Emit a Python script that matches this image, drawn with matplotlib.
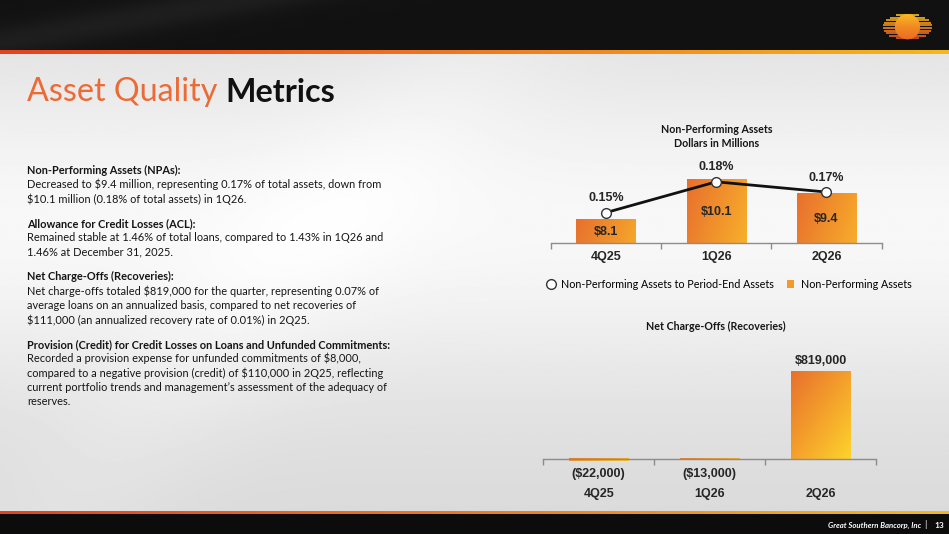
import numpy as np
import matplotlib
matplotlib.use("Agg")
import matplotlib.pyplot as plt
from matplotlib.colors import LinearSegmentedColormap
from matplotlib.lines import Line2D
from matplotlib.patches import Patch, Circle
from matplotlib.transforms import offset_copy

W, H = 949, 534

# data
quarters = ["4Q25", "1Q26", "2Q26"]
npa_millions = [8.1, 10.1, 9.4]
npa_ratio_pct = [0.15, 0.18, 0.17]
net_charge_offs = [-22000, -13000, 819000]

sections = [
    ("Non-Performing Assets (NPAs):",
     ["Decreased to $9.4 million, representing 0.17% of total assets, down from",
      "$10.1 million (0.18% of total assets) in 1Q26."]),
    ("Allowance for Credit Losses (ACL):",
     ["Remained stable at 1.46% of total loans, compared to 1.43% in 1Q26 and",
      "1.46% at December 31, 2025."]),
    ("Net Charge-Offs (Recoveries):",
     ["Net charge-offs totaled $819,000 for the quarter, representing 0.07% of",
      "average loans on an annualized basis, compared to net recoveries of",
      "$111,000 (an annualized recovery rate of 0.01%) in 2Q25."]),
    ("Provision (Credit) for Credit Losses on Loans and Unfunded Commitments:",
     ["Recorded a provision expense for unfunded commitments of $8,000,",
      "compared to a negative provision (credit) of $110,000 in 2Q25, reflecting",
      "current portfolio trends and management\u2019s assessment of the adequacy of",
      "reserves."]),
]

TXT = "Lato"
NUM = "Liberation Sans"
AXIS_GRAY = "#8c8c8c"

bar_cmap = LinearSegmentedColormap.from_list("bar", ["#E8702E", "#F4A02B", "#FDD32C"])
grad = np.add.outer(np.linspace(0, 1, 64), np.linspace(0, 1, 64)) / 2


def gradient_bars(ax, bars):
    for b in bars:
        x0, y0 = b.get_x(), b.get_y()
        w, h = b.get_width(), b.get_height()
        b.set_facecolor("none")
        b.set_edgecolor("none")
        ax.imshow(grad, cmap=bar_cmap, origin="upper", aspect="auto",
                  extent=[x0, x0 + w, min(y0, y0 + h), max(y0, y0 + h)], zorder=2)


fig = plt.figure(figsize=(W / 100, H / 100), dpi=100)

# slide background, in pixel coordinates
bg = fig.add_axes([0, 0, 1, 1], zorder=-10)
bg.set_xlim(0, W)
bg.set_ylim(H, 0)
bg.axis("off")
yy = np.linspace(0, 1, 300)[:, None]
xx = np.linspace(0, 1, 500)[None, :]
shade = (0.85 + 0.12 * np.exp(-((yy - 0.42) / 0.33) ** 2)
         + 0.025 * np.exp(-((xx - 0.55 + yy * 0.5) / 0.12) ** 2))
bg.imshow(np.clip(shade, 0, 1), cmap="gray", vmin=0, vmax=1, extent=[0, W, H, 0], aspect="auto")

band = 0.07 + 0.05 * np.exp(-((xx - 0.25 + yy * 0.3) / 0.1) ** 2) * np.ones_like(yy)
bg.imshow(band, cmap="gray", vmin=0, vmax=1, extent=[0, W, 51, 0], aspect="auto")
bg.imshow(0.05 * np.ones((2, 2)), cmap="gray", vmin=0, vmax=1, extent=[0, W, H, 514], aspect="auto")
line_cmap = LinearSegmentedColormap.from_list("ln", ["#E2441F", "#EE7A22", "#F5B81C"])
bg.imshow(np.linspace(0, 1, 200)[None, :], cmap=line_cmap, extent=[0, W, 54, 50], aspect="auto")
bg.imshow(np.linspace(0, 1, 200)[None, :], cmap=line_cmap, extent=[0, W, 514, 511], aspect="auto")

# logo
cx, cy, a, b = 907.5, 26.7, 24.5, 13.3
logo_cmap = LinearSegmentedColormap.from_list("logo", ["#F4C51F", "#EE8A22", "#E2521E"])
for yv in np.arange(cy - b + 1.5, cy + b, 2.6):
    hw = a * np.sqrt(max(0.0, 1 - ((yv - cy) / b) ** 2))
    bg.plot([cx - hw, cx + hw], [yv, yv], color=logo_cmap((yv - cy + b) / (2 * b)), lw=1.2,
            solid_capstyle="butt")
sun = Circle((cx, cy), 12.5, facecolor="#F7931E", edgecolor="none")
bg.add_patch(sun)
bg.imshow(np.linspace(0, 1, 50)[:, None], cmap=LinearSegmentedColormap.from_list(
    "sun", ["#FBB827", "#F08A22", "#EC6A22"]), extent=[cx - 13, cx + 13, cy + 13, cy - 13],
    aspect="auto", clip_path=sun, zorder=3)

# title
t1 = bg.text(27, 92, "Asset Quality ", color="#EC6A35", fontsize=23.2, family=TXT, va="center")
fig.canvas.draw()
bb = t1.get_window_extent()
bg.text(bb.x1, 92, "Metrics", color="#111111", fontsize=23.2, family=TXT,
        fontweight="bold", va="center")

# left text
y = 170
for head, lines in sections:
    bg.text(27, y, head, fontsize=7.95, family=TXT, fontweight="bold", color="#151515", va="center")
    for ln in lines:
        y += 14.4
        bg.text(27, y, ln, fontsize=7.9, family=TXT, color="#151515", va="center")
    y += 24.5

# footer
bg.text(921, 525, "Great Southern Bancorp, Inc", color="white", fontsize=5.6, family=TXT,
        fontweight="bold", style="italic", ha="right", va="center")
bg.text(925, 524.5, "|", color="white", fontsize=6.5, family=TXT, ha="center", va="center")
bg.text(939, 525, "13", color="white", fontsize=6.0, family=TXT, fontweight="bold",
        ha="center", va="center")

x = np.arange(len(quarters))


def style_axis(ax):
    ax.set_facecolor("none")
    for s in ["top", "left", "right"]:
        ax.spines[s].set_visible(False)
    ax.spines["bottom"].set_color(AXIS_GRAY)
    ax.spines["bottom"].set_linewidth(1.0)
    ax.set_yticks([])
    ax.set_xticks(x)
    ax.set_xticklabels([])
    ax.set_xticks(np.arange(len(quarters) + 1) - 0.5, minor=True)
    ax.tick_params(axis="x", which="major", length=0)
    ax.tick_params(axis="x", which="minor", length=4, color=AXIS_GRAY, width=1.0)
    ax.set_xlim(-0.5, len(quarters) - 0.5)


# chart 1: non-performing assets
ax1 = fig.add_axes([551 / W, 1 - 243.3 / H, 330.5 / W, 83 / H])
style_axis(ax1)
bars1 = ax1.bar(x, npa_millions, width=0.54, bottom=0)
gradient_bars(ax1, bars1)
ax1.set_xlim(-0.5, len(quarters) - 0.5)
ax1.set_ylim(6.94, 6.94 + 83 / 20.0)
for i, v in enumerate(npa_millions):
    ax1.text(i, (v + 6.94) / 2, f"${v:.1f}", ha="center", va="center", family=NUM,
             fontweight="bold", fontsize=9, color="#262626", zorder=5)
lab_tr = offset_copy(ax1.get_xaxis_transform(), fig=fig, y=-13.4, units="dots")
for i, q in enumerate(quarters):
    ax1.text(i, 0, q, transform=lab_tr, ha="center", va="center", family=NUM,
             fontweight="bold", fontsize=9, color="#262626")

ax1b = ax1.twinx()
ax1b.set_facecolor("none")
ax1b.axis("off")
ax1b.plot(x, npa_ratio_pct, color="#111111", lw=2.0, marker="o", markersize=7,
          markerfacecolor="white", markeredgecolor="#333333", markeredgewidth=1.0, zorder=4)
ax1b.set_ylim(0.12, 0.12 + 83 / 1025.0)
ax1b.set_xlim(-0.5, len(quarters) - 0.5)
for i, v in enumerate(npa_ratio_pct):
    ax1b.annotate(f"{v:.2f}%", (i, v), xytext=(0, 14.5), textcoords="offset pixels",
                  ha="center", va="center", family=NUM, fontweight="bold", fontsize=9,
                  color="#262626")

bg.text(717, 129.3, "Non-Performing Assets", ha="center", va="center", family=TXT,
        fontweight="bold", fontsize=7.7, color="#151515")
bg.text(717, 143.3, "Dollars in Millions", ha="center", va="center", family=TXT,
        fontweight="bold", fontsize=7.7, color="#151515")

handles = [Line2D([], [], ls="none", marker="o", markersize=7, markerfacecolor="white",
                  markeredgecolor="#333333", markeredgewidth=1.0),
           Patch(facecolor="#F29A2C", edgecolor="none")]
fig.legend(handles, ["Non-Performing Assets to Period-End Assets", "Non-Performing Assets"],
           loc="center left", bbox_to_anchor=(547 / W, 1 - 284 / H), ncol=2, frameon=False,
           prop={"family": TXT, "size": 7.75}, handlelength=0.7, handleheight=0.7,
           handletextpad=0.6, columnspacing=1.2, borderaxespad=0, borderpad=0)

bg.text(716, 326, "Net Charge-Offs (Recoveries)", ha="center", va="center", family=TXT,
        fontweight="bold", fontsize=7.7, color="#151515")

# chart 2: net charge-offs
s = 87.3 / 819000
ax2 = fig.add_axes([543.3 / W, 1 - 470 / H, 332.7 / W, 130 / H])
style_axis(ax2)
ax2.spines["bottom"].set_position(("data", 0))
bars2 = ax2.bar(x, net_charge_offs, width=0.54)
gradient_bars(ax2, bars2)
ax2.set_xlim(-0.5, len(quarters) - 0.5)
ax2.set_ylim(-11 / s, 119 / s)
for i, v in enumerate(net_charge_offs):
    txt = f"${v:,.0f}" if v >= 0 else f"(${-v:,.0f})"
    off = 11 if v >= 0 else -15
    ax2.annotate(txt, (i, v if v >= 0 else 0), xytext=(0, off), textcoords="offset pixels",
                 ha="center", va="center", family=NUM, fontweight="bold", fontsize=9,
                 color="#262626")
lab_tr2 = offset_copy(ax2.transData, fig=fig, y=-35, units="dots")
for i, q in enumerate(quarters):
    ax2.text(i, 0, q, transform=lab_tr2, ha="center", va="center", family=NUM,
             fontweight="bold", fontsize=9, color="#262626")

fig.savefig("out.png", dpi=100)
